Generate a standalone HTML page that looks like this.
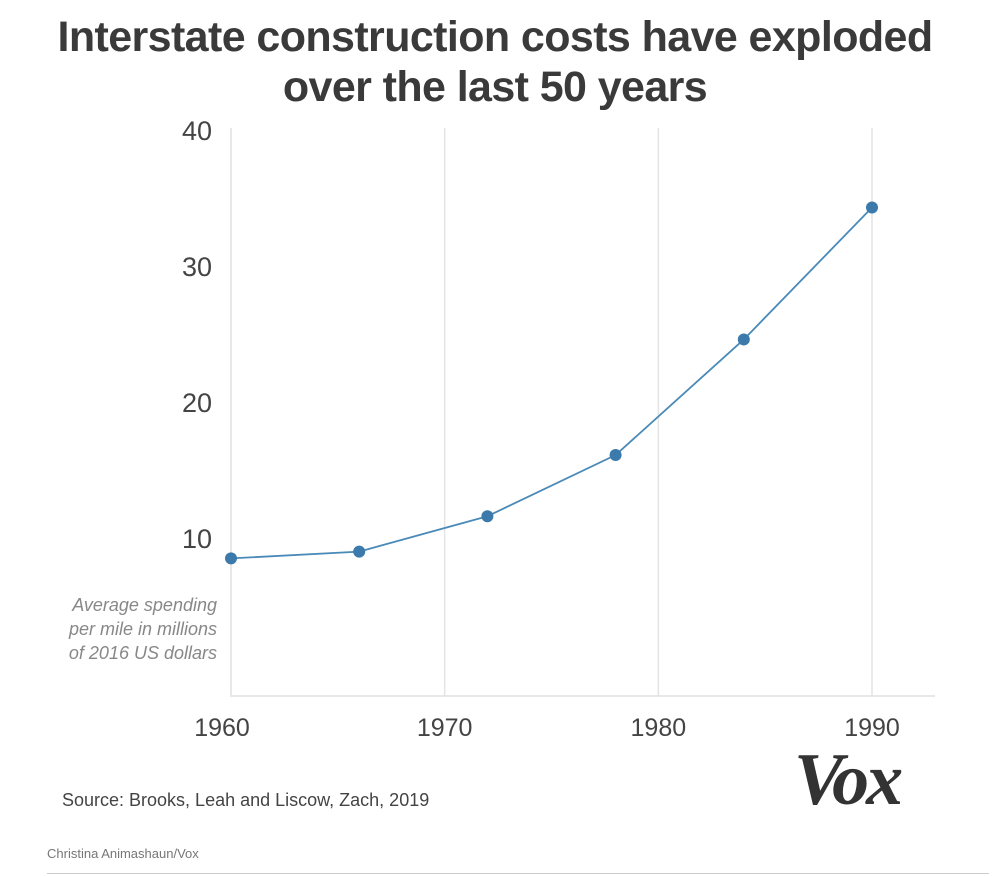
<!DOCTYPE html>
<html><head><meta charset="utf-8"><style>
body{margin:0;width:1000px;height:876px;background:#fff;font-family:"Liberation Sans",sans-serif;overflow:hidden;position:relative}
.title{position:absolute;left:0;top:12px;width:990px;text-align:center;font-weight:bold;font-size:43px;line-height:50px;color:#3a3a3a;letter-spacing:-0.6px}
</style></head><body>
<div class="title">Interstate construction costs have exploded<br>over the last 50 years</div>
<svg id="chart" width="1000" height="876" style="position:absolute;left:0;top:0"></svg>
<div style="position:absolute;left:62px;top:790px;font-size:18px;color:#444">Source: Brooks, Leah and Liscow, Zach, 2019</div>
<div style="position:absolute;left:794px;top:738px;font-family:'Liberation Serif',serif;font-weight:bold;font-style:italic;font-size:74px;color:#333;letter-spacing:-3px">Vox</div>
<div style="position:absolute;left:47px;top:846px;font-size:13px;color:#777">Christina Animashaun/Vox</div>
<div style="position:absolute;left:47px;top:873px;width:942px;height:1px;background:#ccc"></div>
<script>
const years=[1960,1966,1972,1978,1984,1990];
const costs=[8.5,9.0,11.6,16.1,24.6,34.3];
const yTicks=[10,20,30,40];
const xTicks=[1960,1970,1980,1990];
const NS="http://www.w3.org/2000/svg";
const svg=document.getElementById('chart');
const X=v=>231+(v-1960)*(872-231)/30;
const Y=v=>674-v*13.6;
function mk(t,a){const e=document.createElementNS(NS,t);for(const k in a)e.setAttribute(k,a[k]);svg.appendChild(e);return e;}
xTicks.forEach(t=>{
 if(t>1960){const g=mk('line',{x1:X(t),x2:X(t),y1:128,y2:696,stroke:'#e4e4e4','stroke-width':1.5});
 
 }
 const l=mk('text',{x:X(t)-(t==1960?9:0),y:736,'text-anchor':'middle','font-size':25,fill:'#444'});l.textContent=t;
 
 
});
yTicks.forEach(t=>{
 const l=mk('text',{x:212,y:Y(t)+10,'text-anchor':'end','font-size':27,fill:'#444'});l.textContent=t;
 
 
});
const ax=mk('path',{d:'M231 128V696H935',fill:'none',stroke:'#e0e0e0','stroke-width':1.5});


["Average spending","per mile in millions","of 2016 US dollars"].forEach((s,i)=>{
 const t=mk('text',{x:217,y:611+i*24,'text-anchor':'end','font-size':18,'font-style':'italic',fill:'#888'});t.textContent=s;
 
 
});
const ln=mk('polyline',{points:years.map((y,i)=>X(y)+','+Y(costs[i])).join(' '),fill:'none',stroke:'#4a8ab8','stroke-width':1.8});


years.forEach((y,i)=>{
 const c=mk('circle',{cx:X(y),cy:Y(costs[i]),r:6,fill:'#3b7aab'});
 
 
});
</script>
</body></html>
